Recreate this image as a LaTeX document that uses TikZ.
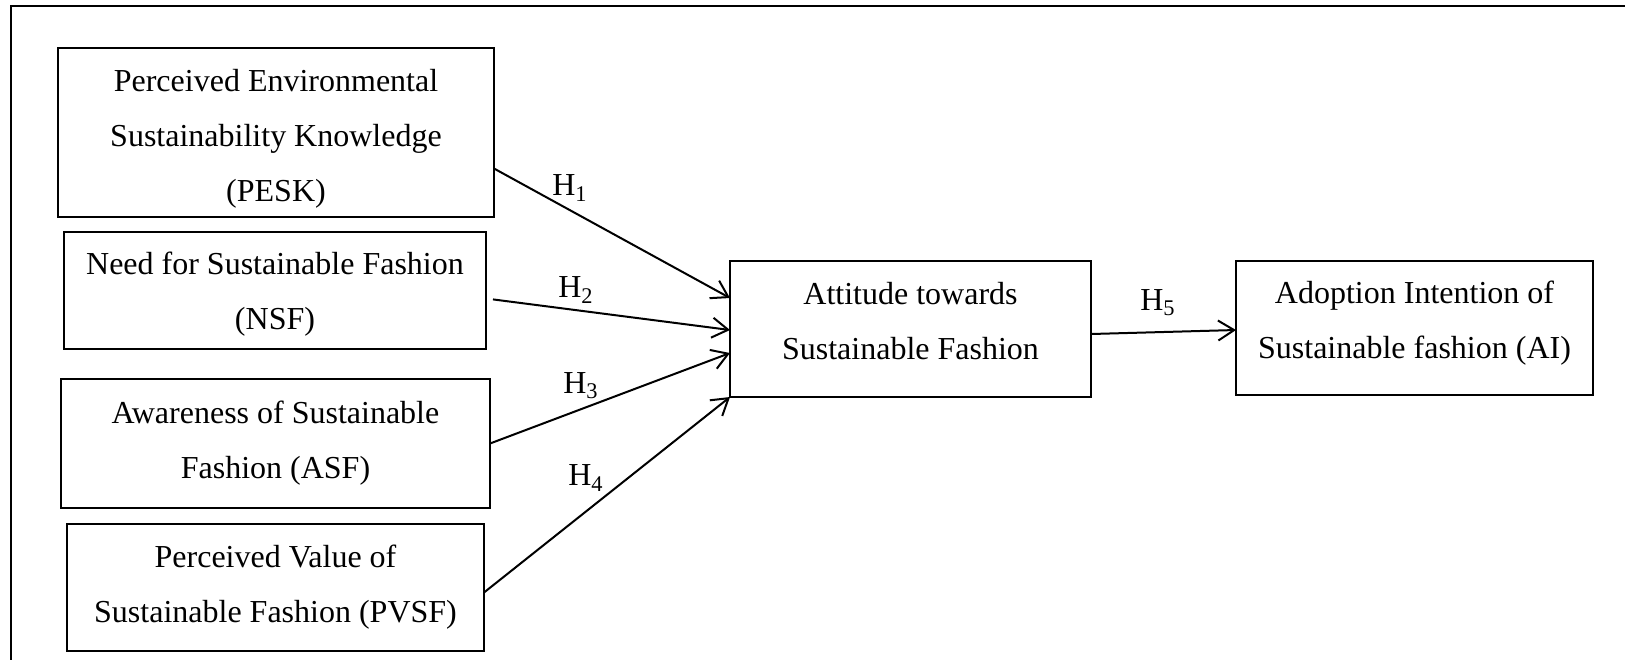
\documentclass[tikz,border=0pt]{standalone}
\usepackage{fontspec}
\setmainfont{Liberation Serif}
\newcommand*{\boxfont}{\fontsize{16pt}{27.5pt}\selectfont}
\newcommand*{\padtop}[1]{\rule{0pt}{#1}}
\newcommand*{\padbot}[1]{\rule[-#1]{0pt}{#1}}
\usepackage{tikz}
\usetikzlibrary{arrows.meta}
\tikzstyle{base}=[x=0.5pt, y=-0.5pt, inner sep=0pt, outer sep=0pt]
\tikzstyle{box}=[draw, line width=1.3pt, align=center, font=\boxfont]
\tikzstyle{link}=[line width=1pt, -{Straight Barb[length=8pt,width=10pt]}]
\tikzstyle{hyp}=[font=\boxfont]
\tikzstyle{frame}=[line width=1.2pt]

\begin{document}
\begin{tikzpicture}[base]
    \useasboundingbox (0,0) rectangle (1625,660);
        \draw [frame] (1625,6) -| (11,660);
        \node [box, minimum width=218pt, minimum height=84.5pt] (pesk) at (276,132.5)
            {\padtop{17.3pt}Perceived Environmental\\Sustainability Knowledge\\(PESK)};
        \node [box, minimum width=211pt, minimum height=58.5pt] (nsf) at (275,290.5)
            {\padtop{14.9pt}Need for Sustainable Fashion\\(NSF)};
        \node [box, minimum width=214.5pt, minimum height=64.5pt] (asf) at (275.5,443.5)
            {Awareness of Sustainable\\Fashion (ASF)};
        \node [box, minimum width=208.5pt, minimum height=63.5pt] (pvsf) at (275.5,587.5)
            {Perceived Value of\\Sustainable Fashion (PVSF)};
        \node [box, minimum width=180.5pt, minimum height=68pt] (att) at (910.5,329)
            {Attitude towards\\Sustainable Fashion\padbot{8.2pt}};
        \node [box, minimum width=178.5pt, minimum height=67pt] (ai) at (1414.5,328)
            {Adoption Intention of\\Sustainable fashion (AI)\padbot{8.1pt}};
        \draw [link] ([yshift=-18pt]pesk.east) -- ([yshift=15.5pt]att.west);
        \draw [link, shorten <=3.5pt] ([yshift=-4pt]nsf.east) -- ([yshift=-0.5pt]att.west);
        \draw [link] (asf.east) -- ([yshift=-12pt]att.west);
        \draw [link] ([yshift=-2.5pt]pvsf.east) -- (att.south west);
        \draw [link] ([yshift=-2.5pt]att.east) -- ([yshift=-1pt]ai.west);
        \node [hyp] (h1) at (570,188) {H\textsubscript{1}};
        \node [hyp] (h2) at (576,290) {H\textsubscript{2}};
        \node [hyp] (h3) at (581,386) {H\textsubscript{3}};
        \node [hyp] (h4) at (586,478) {H\textsubscript{4}};
        \node [hyp] (h5) at (1158,303) {H\textsubscript{5}};
\end{tikzpicture}
\end{document}
